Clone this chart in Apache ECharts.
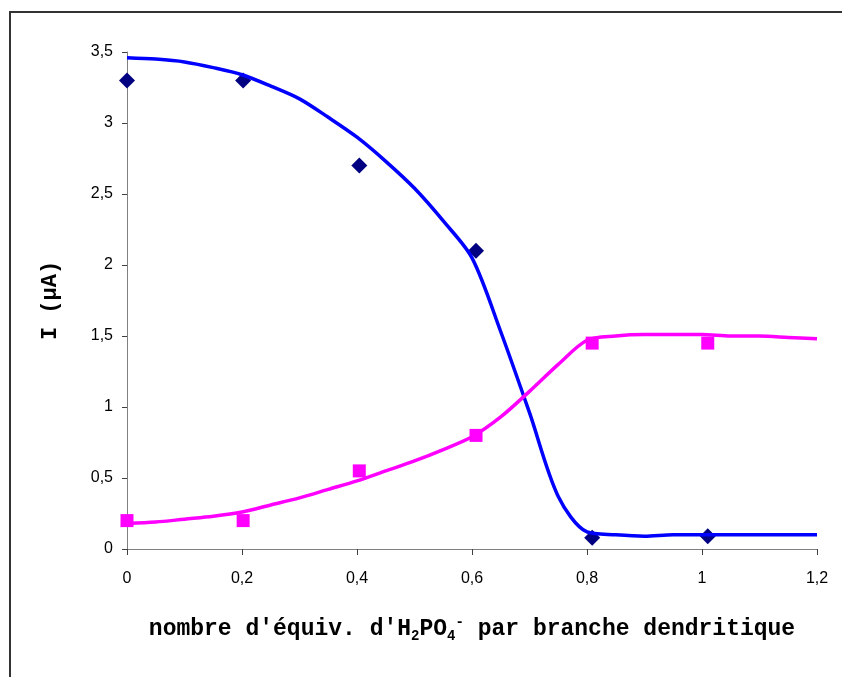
<!DOCTYPE html>
<html>
	<head>
		<meta charset="utf-8" />
		<title>I (µA) vs équiv. H2PO4-</title>
		<script src="https://cdn.jsdelivr.net/npm/echarts@6/dist/echarts.min.js"></script>
		<style>
			html, body { margin: 0; padding: 0; background: #fff; }
			#main { width: 842px; height: 677px; }
		</style>
	</head>
	<body>
		<div id="main"></div>
	<script>
	// points mesurés
	var ptsX = [0, 0.202, 0.404, 0.607, 0.809, 1.01];
	var bleuY = [3.3, 3.3, 2.7, 2.1, 0.08, 0.09];
	var roseY = [0.2, 0.2, 0.55, 0.8, 1.45, 1.45];

	// courbes de tendance (lues sur la figure, pas de 0,05)
	var courbeX = [0, 0.05, 0.1, 0.15, 0.2, 0.25, 0.3, 0.35, 0.4, 0.45, 0.5, 0.55, 0.6, 0.65, 0.7, 0.75, 0.8, 0.85, 0.9, 0.95, 1.0, 1.05, 1.1, 1.15, 1.2];
	var courbeBleueY = [3.46, 3.45, 3.43, 3.39, 3.34, 3.26, 3.17, 3.04, 2.9, 2.73, 2.54, 2.31, 2.05, 1.53, 0.96, 0.37, 0.12, 0.1, 0.09, 0.1, 0.1, 0.1, 0.1, 0.1, 0.1];
	var courbeRoseY = [0.18, 0.19, 0.21, 0.23, 0.26, 0.31, 0.36, 0.42, 0.48, 0.55, 0.62, 0.7, 0.79, 0.93, 1.11, 1.3, 1.47, 1.5, 1.51, 1.51, 1.51, 1.5, 1.5, 1.49, 1.48];

	function paires(xs, ys){
		var out = [];
		for (var i = 0; i < xs.length; i++) out.push([xs[i], ys[i]]);
		return out;
	}

	function virgule(v){
		return String(+v.toFixed(1)).replace('.', ',');
	}

	var chart = echarts.init(document.getElementById('main'));

	var option = {
		animation: false,
		backgroundColor: '#fff',
		grid: { left: 127, right: 25, top: 52, bottom: 128 },
		graphic: [{
			type: 'rect',
			shape: { x: 10, y: 12, width: 860, height: 700 },
			style: { fill: 'none', stroke: '#333', lineWidth: 2 },
			silent: true
		}],
		xAxis: {
			type: 'value',
			min: 0, max: 1.2, interval: 0.2,
			axisLine: { lineStyle: { color: '#808080', width: 1 } },
			axisTick: { show: true, length: 6, lineStyle: { color: '#404040' } },
			splitLine: { show: false },
			axisLabel: {
				margin: 22, fontFamily: 'Liberation Sans', fontSize: 16, color: '#000',
				formatter: virgule
			},
			name: "nombre d'équiv. d'H{s|2}PO{s|4}{e|-} par branche dendritique",
			nameLocation: 'middle',
			nameGap: 66,
			nameTextStyle: {
				fontFamily: 'Liberation Mono', fontWeight: 'bold', fontSize: 23, color: '#000',
				lineHeight: 28,
				rich: {
					s: { fontFamily: 'Liberation Mono', fontWeight: 'bold', fontSize: 14, verticalAlign: 'bottom', lineHeight: 28, color: '#000' },
					e: { fontFamily: 'Liberation Mono', fontWeight: 'bold', fontSize: 14, verticalAlign: 'top', lineHeight: 28, color: '#000' }
				}
			}
		},
		yAxis: {
			type: 'value',
			min: 0, max: 3.5, interval: 0.5,
			axisLine: { show: true, lineStyle: { color: '#808080', width: 1 } },
			axisTick: { show: true, length: 5, lineStyle: { color: '#404040' } },
			splitLine: { show: false },
			axisLabel: {
				margin: 14, fontFamily: 'Liberation Sans', fontSize: 16, color: '#000',
				formatter: virgule
			},
			name: 'I (µA)',
			nameLocation: 'middle',
			nameGap: 66,
			nameTextStyle: { fontFamily: 'Liberation Mono', fontWeight: 'bold', fontSize: 22, color: '#000' }
		},
		series: [
			{
				type: 'line', data: paires(courbeX, courbeBleueY),
				showSymbol: false, smooth: 0.3,
				lineStyle: { color: '#0000FF', width: 3.5 }
			},
			{
				type: 'line', data: paires(courbeX, courbeRoseY),
				showSymbol: false, smooth: 0.3,
				lineStyle: { color: '#FF00FF', width: 3.5 }
			},
			{
				type: 'scatter', data: paires(ptsX, bleuY),
				symbol: 'diamond', symbolSize: 16,
				itemStyle: { color: '#000080', opacity: 1 }
			},
			{
				type: 'scatter', data: paires(ptsX, roseY),
				symbol: 'rect', symbolSize: 13,
				itemStyle: { color: '#FF00FF', opacity: 1 }
			}
		]
	};

	chart.setOption(option);
	</script>
	</body>
</html>
